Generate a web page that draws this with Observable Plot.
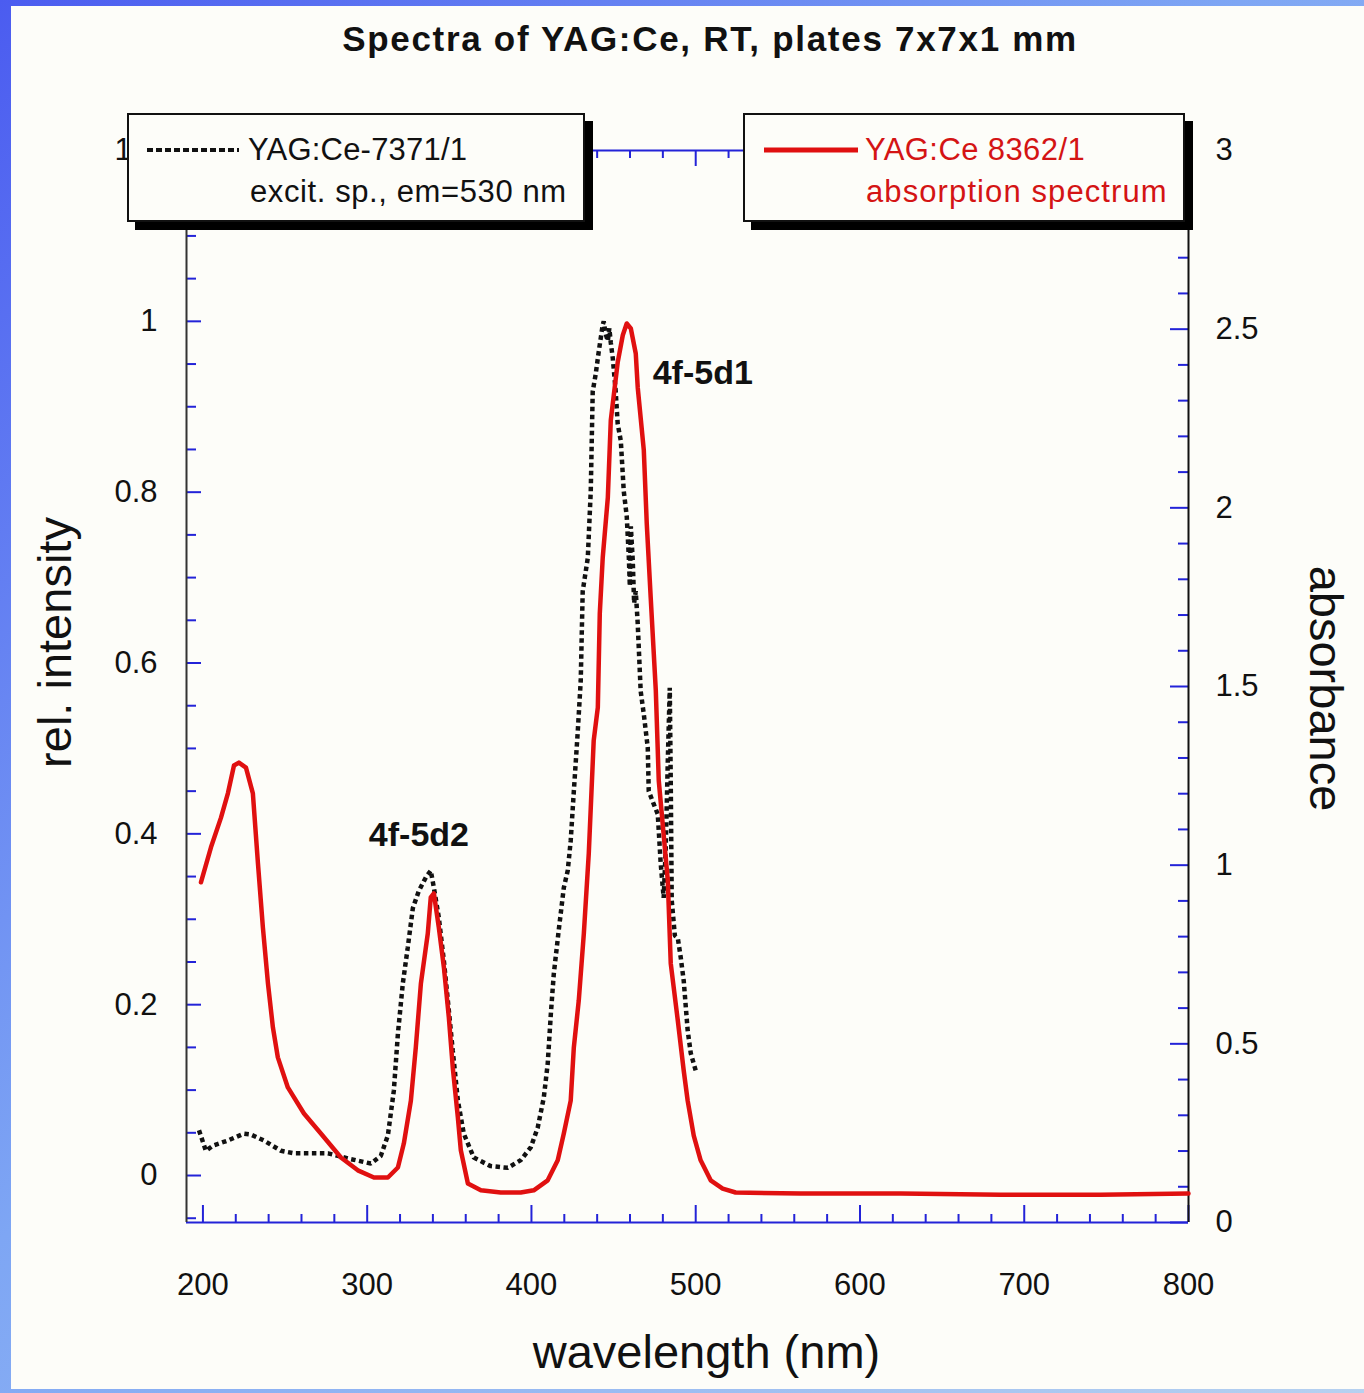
<!DOCTYPE html>
<html>
<head>
<meta charset="utf-8">
<script src="https://cdn.jsdelivr.net/npm/d3@7"></script>
<script src="https://cdn.jsdelivr.net/npm/@observablehq/plot@0.6"></script>
<style>
  html, body { margin: 0; padding: 0; }
  #page { position: relative; width: 1364px; height: 1393px; overflow: hidden;
    background: linear-gradient(135deg, #4b5cf0 0%, #7ea6f4 45%, #b6d1f0 100%);
    font-family: "Liberation Sans", Arial, sans-serif; color: #111; }
  #panel { position: absolute; left: 11px; top: 6px; right: 0; bottom: 4px; background: #fdfdf9; }
  #title { position: absolute; left: 310px; width: 800px; top: 14px; line-height: 50px; text-align: center;
    font-weight: bold; font-size: 35px; letter-spacing: 1.7px; }
  #chart { position: absolute; left: 0; top: 80px; }
  .legend { position: absolute; box-sizing: border-box; border: 2px solid #111; background: #fdfdf9;
    box-shadow: 8px 8px 0 #000; }
  .legend svg { position: absolute; left: 0; top: 0; }
  .legend span { position: absolute; white-space: nowrap; font-size: 31px; line-height: 36px; letter-spacing: 0.6px; }
</style>
</head>
<body>
<div id="page">
  <div id="panel"></div>
  <div id="title"></div>
  <div id="chart"></div>
  <div class="legend" id="leg1" style="left:127px; top:113px; width:458px; height:109px;">
    <svg width="458" height="109"><line x1="18" x2="110" y1="35" y2="35" stroke="#111" stroke-width="4" stroke-dasharray="6,3"></line></svg>
    <span id="l1a" style="left:119px; top:17px; letter-spacing:0.2px;"></span>
    <span id="l1b" style="left:121px; top:59px;"></span>
  </div>
  <div class="legend" id="leg2" style="left:743px; top:113px; width:442px; height:109px;">
    <svg width="442" height="109"><line x1="19" x2="113" y1="35" y2="35" stroke="#e01010" stroke-width="5"></line></svg>
    <span id="l2a" style="left:120px; top:17px; color:#d41414; letter-spacing:0.4px;"></span>
    <span id="l2b" style="left:121px; top:59px; color:#d41414; letter-spacing:1.1px;"></span>
  </div>
</div>
<script>
// ---------- data ----------
const titleText = "Spectra of YAG:Ce, RT, plates 7x7x1 mm";
const seriesNames = ["YAG:Ce-7371/1", "YAG:Ce 8362/1"];
const seriesNotes = ["excit. sp., em=530 nm", "absorption spectrum"];
const xLabel = "wavelength (nm)";
const yLeftLabel = "rel. intensity";
const yRightLabel = "absorbance";

// excitation spectrum (black dashed, left axis: rel. intensity)
const excWavelength = [197.6, 201.8, 206.1, 215.2, 224.9, 229.2, 237.1, 247.5, 255.4, 276.1, 288.2, 302.2, 308.3, 312.6, 316.2, 318.7, 321.7, 324.7, 327.8, 331.4, 335.7, 338.7, 340.6, 343.6, 346.7, 349.1, 352.1, 355.2, 358.8, 364.9, 375.2, 385.6, 393.5, 399.6, 403.8, 407.5, 409.9, 411.8, 413.6, 416.6, 419.7, 422.1, 423.9, 425.8, 428.2, 430.0, 431.2, 434.3, 436.1, 437.3, 439.1, 441.0, 443.4, 444.0, 445.2, 446.5, 447.4, 448.3, 449.5, 451.3, 452.5, 454.4, 456.2, 458.0, 459.3, 459.9, 460.5, 461.7, 462.5, 463.5, 464.7, 466.5, 468.4, 470.8, 471.4, 474.4, 476.9, 478.7, 480.5, 481.7, 483.0, 484.2, 484.8, 485.4, 487.3, 489.1, 490.9, 492.7, 495.1, 497.0, 500.0];
const excIntensity = [0.053, 0.029, 0.035, 0.041, 0.049, 0.048, 0.041, 0.029, 0.026, 0.026, 0.020, 0.014, 0.023, 0.047, 0.099, 0.166, 0.225, 0.267, 0.313, 0.333, 0.349, 0.357, 0.337, 0.302, 0.251, 0.205, 0.146, 0.088, 0.049, 0.021, 0.011, 0.009, 0.018, 0.033, 0.056, 0.091, 0.131, 0.189, 0.236, 0.287, 0.337, 0.357, 0.392, 0.450, 0.520, 0.579, 0.684, 0.723, 0.801, 0.918, 0.938, 0.965, 0.996, 1.000, 0.985, 0.977, 0.992, 0.975, 0.957, 0.918, 0.880, 0.860, 0.801, 0.772, 0.723, 0.690, 0.760, 0.719, 0.670, 0.684, 0.646, 0.567, 0.540, 0.501, 0.450, 0.435, 0.423, 0.365, 0.325, 0.380, 0.485, 0.571, 0.462, 0.322, 0.281, 0.278, 0.255, 0.228, 0.170, 0.143, 0.123];

// absorption spectrum (red solid, right axis: absorbance)
const absWavelength = [198.8, 204.9, 211.0, 215.2, 218.9, 221.9, 226.2, 230.4, 233.5, 236.5, 239.6, 242.6, 245.6, 251.7, 261.5, 271.8, 284.0, 294.3, 304.1, 312.6, 318.7, 322.3, 326.6, 329.6, 332.7, 336.9, 338.7, 340.6, 343.6, 346.7, 349.7, 352.1, 355.2, 357.0, 361.3, 369.2, 381.3, 393.5, 401.4, 409.9, 416.0, 419.7, 423.9, 425.8, 428.8, 431.9, 434.9, 437.9, 440.4, 441.6, 443.4, 446.5, 448.3, 452.5, 455.6, 458.0, 460.5, 463.5, 464.7, 468.4, 470.2, 472.6, 475.7, 477.5, 483.0, 484.8, 489.1, 492.7, 495.1, 498.8, 503.0, 509.1, 516.4, 524.3, 563.9, 624.8, 685.6, 746.5, 800.0];
const absorbance = [0.952, 1.050, 1.133, 1.201, 1.279, 1.287, 1.273, 1.201, 1.005, 0.826, 0.669, 0.546, 0.462, 0.378, 0.305, 0.249, 0.182, 0.146, 0.126, 0.126, 0.154, 0.221, 0.341, 0.490, 0.669, 0.809, 0.910, 0.921, 0.826, 0.714, 0.574, 0.434, 0.294, 0.202, 0.109, 0.090, 0.084, 0.084, 0.090, 0.118, 0.174, 0.249, 0.341, 0.490, 0.621, 0.809, 1.033, 1.349, 1.441, 1.704, 1.861, 2.029, 2.245, 2.407, 2.483, 2.516, 2.502, 2.432, 2.337, 2.161, 1.956, 1.749, 1.489, 1.237, 0.957, 0.725, 0.565, 0.425, 0.341, 0.243, 0.174, 0.118, 0.095, 0.084, 0.081, 0.081, 0.078, 0.078, 0.081];

// peak annotations (data units: nm, rel. intensity)
const annLabels = ["4f-5d1", "4f-5d2"];
const annX = [473.8, 301.0];
const annY = [0.939, 0.398];

// axes
const xDomain = [190, 800];
const yLeftDomain = [-0.055, 1.2];
const yRightDomain = [0, 3];
const xMajorTicks = [200, 300, 400, 500, 600, 700, 800];
const yLeftTicks = [0, 0.2, 0.4, 0.6, 0.8, 1, 1.2];
const yRightTicks = [0, 0.5, 1, 1.5, 2, 2.5, 3];

// ---------- build ----------
const xMinorTicks = d3.range(220, 800, 20).filter(v => v % 100 !== 0);
const yLeftMinor = d3.range(-1, 24).filter(i => i % 4 !== 0).map(i => +(i * 0.05).toFixed(2));
const yRightMinor = d3.range(1, 30).filter(i => i % 5 !== 0).map(i => i / 10);

const absToLeft = a => yLeftDomain[0] + (a - yRightDomain[0]) / (yRightDomain[1] - yRightDomain[0]) * (yLeftDomain[1] - yLeftDomain[0]);
const leftToAbs = v => yRightDomain[0] + (v - yLeftDomain[0]) / (yLeftDomain[1] - yLeftDomain[0]) * (yRightDomain[1] - yRightDomain[0]);

const excitation = excWavelength.map((w, i) => ({nm: w, v: excIntensity[i]}));
const absorption = absWavelength.map((w, i) => ({nm: w, a: absorbance[i]}));
const annotations = annLabels.map((t, i) => ({t, x: annX[i], y: annY[i]}));

const W = 1364, H = 1300, ML = 186, MR = 176, MT = 70, MB = 158;
const FW = W - ML - MR, FH = H - MT - MB;
const blue = "#2323d8";
const fmt = d3.format("~g");

document.getElementById("title").textContent = titleText;
document.getElementById("l1a").textContent = seriesNames[0];
document.getElementById("l1b").textContent = seriesNotes[0];
document.getElementById("l2a").textContent = seriesNames[1];
document.getElementById("l2b").textContent = seriesNotes[1];

const chart = Plot.plot({
  width: W, height: H,
  marginLeft: ML, marginRight: MR, marginTop: MT, marginBottom: MB,
  x: {domain: xDomain},
  y: {domain: yLeftDomain},
  style: {background: "transparent", fontFamily: "'Liberation Sans', Arial, sans-serif", fontSize: "31px", color: "#111"},
  marks: [
    // bottom ticks (inward)
    Plot.ruleX(xMinorTicks, {stroke: blue, strokeWidth: 2, insetTop: FH - 8}),
    Plot.ruleX(xMajorTicks, {stroke: blue, strokeWidth: 2, insetTop: FH - 17}),
    // top ticks (inward)
    Plot.ruleX(xMinorTicks, {stroke: blue, strokeWidth: 2, insetBottom: FH - 8}),
    Plot.ruleX(xMajorTicks, {stroke: blue, strokeWidth: 2, insetBottom: FH - 16}),
    // left ticks
    Plot.ruleY(yLeftMinor, {stroke: blue, strokeWidth: 2, insetRight: FW - 10}),
    Plot.ruleY(yLeftTicks, {stroke: blue, strokeWidth: 2, insetRight: FW - 15}),
    // right ticks
    Plot.ruleY(yRightMinor.map(absToLeft), {stroke: blue, strokeWidth: 2, insetLeft: FW - 10}),
    Plot.ruleY(yRightTicks.map(absToLeft), {stroke: blue, strokeWidth: 2, insetLeft: FW - 18}),
    // frame
    Plot.ruleY([yLeftDomain[0]], {stroke: blue, strokeWidth: 2}),
    Plot.ruleY([yLeftDomain[1]], {stroke: blue, strokeWidth: 2}),
    Plot.ruleX([xDomain[0]], {stroke: "#333", strokeWidth: 2}),
    Plot.ruleX([xDomain[1]], {stroke: "#111", strokeWidth: 2}),
    // tick labels
    Plot.axisX({ticks: xMajorTicks, tickSize: 0, tickPadding: 50, label: null, tickFormat: d => String(d), fontSize: 31}),
    Plot.axisY({anchor: "left", ticks: yLeftTicks, tickSize: 0, tickPadding: 29, label: null, tickFormat: fmt, fontSize: 31}),
    Plot.axisY({anchor: "right", ticks: yRightTicks.map(absToLeft), tickSize: 0, tickPadding: 27, label: null,
      tickFormat: v => fmt(+leftToAbs(v).toFixed(3)), fontSize: 31}),
    // curves
    Plot.line(excitation, {x: "nm", y: "v", stroke: "#111", strokeWidth: 4.5, strokeDasharray: "4.5,3.5",
      strokeLinecap: "butt", strokeLinejoin: "miter"}),
    Plot.line(absorption, {x: "nm", y: d => absToLeft(d.a), stroke: "#e01010", strokeWidth: 4.5}),
    // annotations
    Plot.text(annotations, {x: "x", y: "y", text: "t", textAnchor: "start", lineAnchor: "middle",
      fontWeight: "bold", fontSize: 34, fill: "#111", style: "letter-spacing:5px"}),
    // axis titles
    Plot.text([yLeftLabel], {text: d => d, frameAnchor: "left", textAnchor: "middle", lineAnchor: "middle",
      rotate: -90, dx: -131, dy: -44, fontSize: 47, fill: "#111"}),
    Plot.text([yRightLabel], {text: d => d, frameAnchor: "right", textAnchor: "middle", lineAnchor: "middle",
      rotate: 90, dx: 137, dy: 2, fontSize: 47, fill: "#111"}),
    Plot.text([xLabel], {text: d => d, frameAnchor: "bottom", textAnchor: "middle", lineAnchor: "middle",
      dx: 19, dy: 130, fontSize: 47, fill: "#111"})
  ]
});
document.getElementById("chart").appendChild(chart);
</script>
</body>
</html>
